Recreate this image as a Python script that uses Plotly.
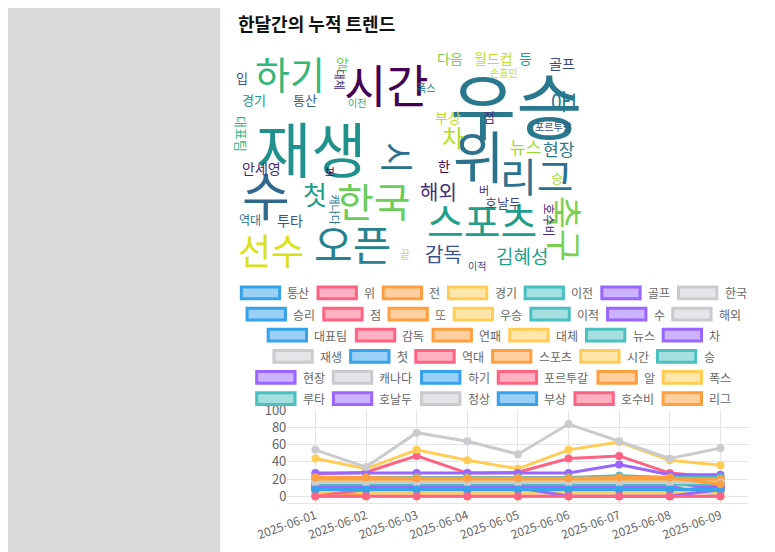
import plotly.graph_objects as go

FONT = "Noto Sans CJK KR"
W, H = 775, 552
OX, OY = 9, 9  # page margin offset of the browser


def px(x):
    return (x - OX) / W


def py(y):
    return 1 - (y - OY) / H


dates = ["2025-06-01", "2025-06-02", "2025-06-03", "2025-06-04", "2025-06-05",
         "2025-06-06", "2025-06-07", "2025-06-08", "2025-06-09"]

palette = ["#36a2eb", "#ff6384", "#ff9f40", "#ffcd56", "#4bc0c0", "#9966ff", "#c9cbcf"]
fills = ["#9ad0f5", "#ffb1c1", "#ffcf9f", "#ffe6aa", "#a5dfdf", "#ccb2ff", "#e4e5e7"]

keywords = ["통산", "위", "전", "경기", "이전", "골프", "한국",
            "승리", "점", "또", "우승", "이적", "수", "해외",
            "대표팀", "감독", "연패", "대체", "뉴스", "차",
            "재생", "첫", "역대", "스포츠", "시간", "승",
            "현장", "캐나다", "하기", "포르투갈", "알", "폭스",
            "루타", "호날두", "정상", "부상", "호수비", "리그"]
legend_rows = [7, 7, 6, 6, 6, 6]

counts = {
    "통산": [10, 10, 10, 10, 10, 10, 10, 10, 10],
    "위": [26, 28, 47, 27, 28, 44, 47, 27, 22],
    "전": [8, 0, 0, 0, 0, 0, 0, 0, 12],
    "경기": [18, 18, 18, 18, 18, 18, 18, 18, 18],
    "이전": [12, 12, 12, 12, 12, 12, 12, 12, 12],
    "골프": [15, 15, 15, 15, 15, 15, 15, 15, 15],
    "한국": [22, 22, 22, 22, 22, 22, 22, 22, 22],
    "승리": [8, 8, 8, 8, 8, 8, 8, 8, 8],
    "점": [12, 12, 12, 12, 12, 12, 12, 12, 12],
    "또": [5, 5, 5, 5, 5, 5, 5, 5, 5],
    "우승": [44, 32, 54, 42, 32, 54, 63, 42, 36],
    "이적": [10, 10, 10, 10, 10, 10, 10, 10, 10],
    "수": [27, 27, 27, 27, 27, 27, 37, 25, 25],
    "해외": [18, 18, 18, 18, 18, 18, 18, 18, 18],
    "대표팀": [9, 9, 9, 9, 9, 9, 9, 9, 9],
    "감독": [12, 12, 12, 12, 12, 12, 12, 12, 12],
    "연패": [0, 0, 0, 0, 0, 0, 0, 0, 0],
    "대체": [5, 5, 5, 5, 5, 5, 5, 5, 5],
    "뉴스": [15, 15, 15, 15, 15, 15, 15, 15, 15],
    "차": [11, 11, 11, 11, 11, 11, 11, 11, 11],
    "재생": [54, 34, 74, 64, 49, 84, 64, 44, 56],
    "첫": [9, 9, 9, 9, 9, 9, 9, 9, 9],
    "역대": [14, 14, 14, 14, 14, 14, 14, 14, 14],
    "스포츠": [22, 22, 22, 22, 22, 22, 22, 22, 22],
    "시간": [20, 20, 20, 20, 20, 20, 20, 20, 20],
    "승": [22, 22, 22, 22, 22, 22, 24, 22, 22],
    "현장": [12, 12, 12, 12, 12, 12, 12, 12, 12],
    "캐나다": [16, 16, 16, 16, 16, 16, 16, 16, 0],
    "하기": [8, 8, 8, 8, 8, 8, 8, 8, 8],
    "포르투갈": [0, 8, 8, 8, 8, 8, 8, 8, 8],
    "알": [20, 20, 20, 20, 20, 20, 20, 20, 20],
    "폭스": [0, 0, 0, 0, 0, 0, 0, 0, 0],
    "루타": [14, 14, 14, 14, 14, 14, 14, 14, 14],
    "호날두": [10, 10, 10, 10, 10, 0, 0, 0, 8],
    "정상": [16, 16, 16, 16, 16, 16, 16, 16, 16],
    "부상": [8, 8, 8, 8, 8, 8, 8, 8, 8],
    "호수비": [0, 0, 0, 0, 0, 0, 0, 0, 0],
    "리그": [22, 22, 21, 21, 21, 21, 22, 22, 14],
}

# word cloud: word, x px, y px, font size, color, angle
cloud_words = [
    ("재생", 292, 140, 60, "#21918c", 0),
    ("우승", 505, 95, 72, "#2a788e", 0),
    ("위", 467, 148, 56, "#2c728e", 0),
    ("시간", 370, 75, 46, "#440154", 0),
    ("하기", 270, 65, 38, "#35b779", 0),
    ("수", 245, 188, 52, "#31688e", 0),
    ("한국", 357, 195, 40, "#6ccd5a", 0),
    ("스포츠", 470, 215, 40, "#1f9e89", 0),
    ("오픈", 335, 238, 42, "#26828e", 0),
    ("선수", 250, 245, 36, "#d8e219", 0),
    ("리그", 527, 170, 40, "#2c728e", 0),
    ("축구", 557, 225, 36, "#7ad151", 90),
    ("공", 557, 95, 26, "#2a788e", 90),
    ("감독", 430, 250, 20, "#3b528b", 0),
    ("김혜성", 512, 252, 19, "#1fa187", 0),
    ("해외", 425, 186, 20, "#472d7b", 0),
    ("뉴스", 515, 140, 17, "#a0da39", 0),
    ("현장", 550, 142, 17, "#2a788e", 0),
    ("차", 440, 130, 24, "#b5de2b", 0),
    ("시", 383, 152, 34, "#2c728e", 90),
    ("부상", 435, 110, 14, "#bddf26", 0),
    ("점", 477, 110, 13, "#46337e", 0),
    ("골프", 553, 55, 14, "#3e4989", 0),
    ("다음", 437, 50, 14, "#7ad151", 0),
    ("월드컵", 482, 50, 14, "#c2df23", 0),
    ("등", 515, 50, 14, "#1f9e89", 0),
    ("알", 325, 55, 14, "#6ece58", 0),
    ("대체", 322, 72, 11, "#472d7b", 90),
    ("입", 220, 70, 13, "#3b528b", 0),
    ("경기", 232, 92, 13, "#21918c", 0),
    ("통산", 285, 92, 13, "#355f8d", 0),
    ("이전", 340, 95, 10, "#26ad81", 0),
    ("폭스", 412, 80, 10, "#2c728e", 0),
    ("손흥민", 493, 65, 10, "#c2df23", 0),
    ("포르투갈", 545, 120, 10, "#3b528b", 0),
    ("안세영", 240, 162, 14, "#482878", 0),
    ("대표팀", 219, 128, 13, "#35b779", 90),
    ("첫", 296, 188, 26, "#1f9e89", 0),
    ("캐나다", 317, 205, 11, "#2a788e", 90),
    ("역대", 228, 215, 12, "#2c728e", 0),
    ("투타", 270, 215, 14, "#3b528b", 0),
    ("한", 430, 160, 13, "#440154", 0),
    ("버", 472, 185, 11, "#482878", 0),
    ("호날두", 492, 198, 13, "#3e4989", 0),
    ("승", 548, 172, 13, "#a0da39", 0),
    ("호수비", 540, 215, 12, "#482878", 90),
    ("끝", 390, 250, 11, "#d8e219", 0),
    ("이적", 465, 262, 10, "#3b528b", 0),
    ("보", 311, 165, 11, "#440154", 0),
]

fig = go.Figure()

for i, kw in enumerate(keywords):
    c = palette[i % len(palette)]
    fig.add_trace(go.Scatter(
        x=dates, y=counts[kw], name=kw, mode="lines+markers", showlegend=False,
        line=dict(color=c, width=3), marker=dict(color=c, size=8),
    ))

fig.add_trace(go.Scatter(x=[None], y=[None], xaxis="x2", yaxis="y2", showlegend=False))

for word, x, y, size, color, angle in cloud_words:
    fig.add_annotation(x=x, y=y, xref="x2", yref="y2", text=word, showarrow=False,
                       textangle=angle, font=dict(family=FONT, size=size, color=color))

# chart.js style legend, rows centered over the chart
center = 487
idx = 0
for r, n in enumerate(legend_rows):
    items = keywords[idx:idx + n]
    widths = [40 + 6 + 12 * len(k) + 10 for k in items]
    x = center - sum(widths) / 2
    yc = 290 + r * 21.6
    for k, w in zip(items, widths):
        j = keywords.index(k) % len(palette)
        fig.add_shape(type="rect", xref="paper", yref="paper",
                      x0=px(x), x1=px(x + 40), y0=py(yc + 6), y1=py(yc - 6),
                      fillcolor=fills[j], line=dict(color=palette[j], width=3))
        fig.add_annotation(x=px(x + 46), y=py(yc), xref="paper", yref="paper", xanchor="left",
                           yanchor="middle", showarrow=False, text=k,
                           font=dict(family=FONT, size=12, color="#666"))
        x += w
    idx += n

fig.add_annotation(x=px(213), y=py(14), xref="paper", yref="paper", xanchor="left",
                   yanchor="middle", showarrow=False, text="<b>한달간의 누적 트렌드</b>",
                   font=dict(family=FONT, size=18, color="#111"))

fig.add_shape(type="rect", xref="paper", yref="paper", x0=-0.05, x1=px(197), y0=0, y1=1.05,
              fillcolor="#d9d9d9", line_width=0, layer="below")

fig.update_layout(
    width=W, height=H,
    margin=dict(l=0, r=0, t=0, b=0),
    paper_bgcolor="white", plot_bgcolor="white",
    font=dict(family=FONT, size=12, color="#666"),
    xaxis=dict(domain=[px(267), px(748)], type="category", tickangle=-20, showgrid=True,
               gridcolor="#e5e5e5", linecolor="#e5e5e5", tickfont=dict(size=12, color="#666")),
    yaxis=dict(domain=[py(505), py(410)], range=[-8, 100], tickvals=[0, 20, 40, 60, 80, 100],
               gridcolor="#e5e5e5", zeroline=False, tickfont=dict(size=13, color="#666")),
    xaxis2=dict(domain=[px(205), px(565)], range=[205, 565], visible=False, anchor="y2"),
    yaxis2=dict(domain=[py(273), py(38)], range=[273, 38], visible=False, anchor="x2"),
    showlegend=False,
)

fig.write_html("out.html")
